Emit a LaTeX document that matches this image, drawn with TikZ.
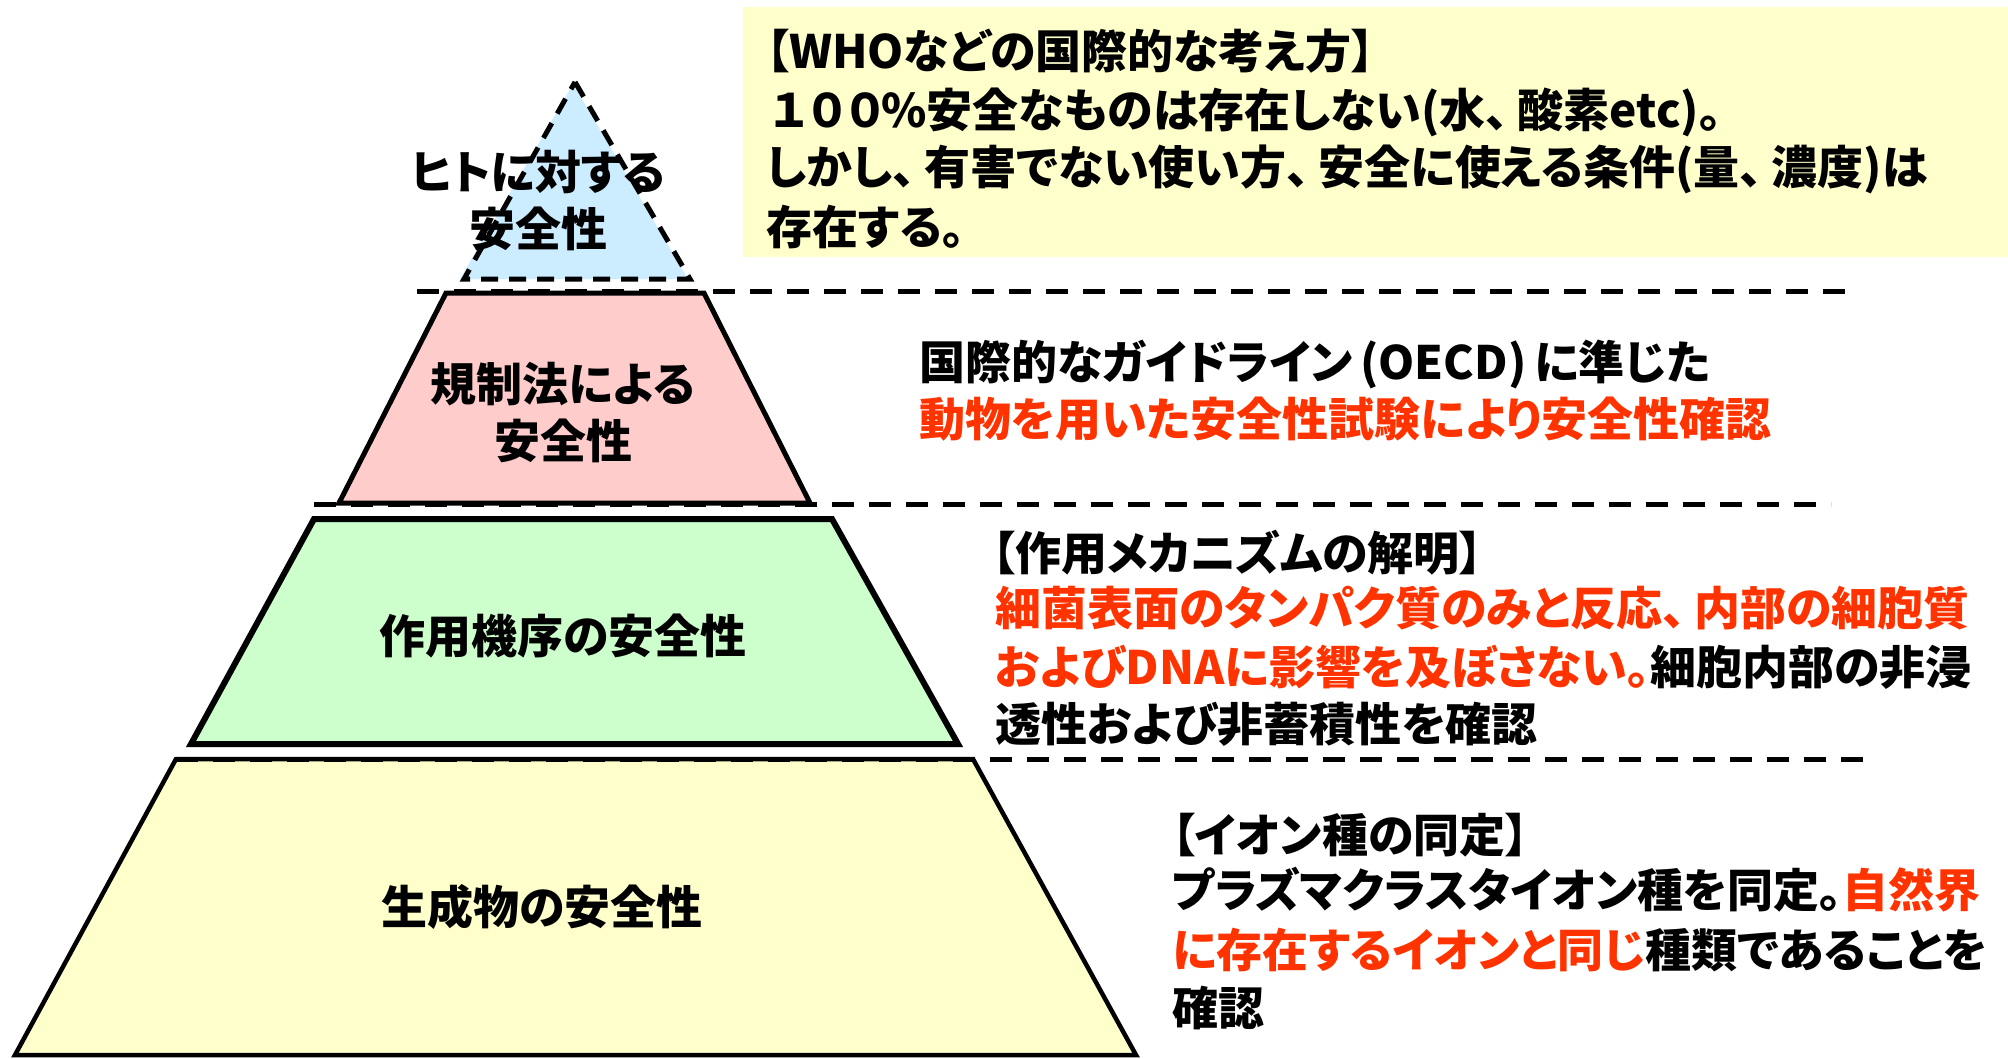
\documentclass[tikz,border=0pt]{standalone}
\usepackage{fontspec}
\setmainfont{Noto Sans CJK JP}[RawFeature=+palt]
\newfontfamily\jpfw{Noto Sans CJK JP}
\newcommand\tten{、\kern0.2em}
\definecolor{tblue}{HTML}{CCECFF}
\definecolor{tpink}{HTML}{FFCCCC}
\definecolor{tgreen}{HTML}{CCFFCC}
\definecolor{tyellow}{HTML}{FFFFCC}
\definecolor{rtx}{HTML}{FF3300}
\tikzset{
  jp/.style={font=\fontsize{46}{57}\selectfont\bfseries, inner sep=0pt},
  lbl/.style={jp, align=center},
  txtline/.style={jp, anchor=base west},
  sepline/.style={line width=5pt, dash pattern=on 22pt off 15pt},
  tier/.style={draw=black, line join=miter},
}
\begin{document}
\begin{tikzpicture}[x=1pt,y=-1pt]
\useasboundingbox (0,0) rectangle (2008,1058);
% top box
\fill[tyellow] (743,7) rectangle (2008,257);
% top triangle
\fill[tblue] (573,84) -- (688,279) -- (460,279) -- cycle;
\draw[line width=5pt, dash pattern=on 17pt off 11pt] (575,82) -- (690,279) -- (464,279) -- cycle;
% tiers
\filldraw[tier, fill=tpink, line width=5pt] (446,293) -- (704,293) -- (810,503) -- (339,503) -- cycle;
\filldraw[tier, fill=tgreen, line width=6pt] (314,519) -- (832,519) -- (958,744) -- (191,744) -- cycle;
\filldraw[tier, fill=tyellow, line width=4.5pt] (176,759) -- (973,759) -- (1136,1055) -- (15,1055) -- cycle;
% dashed separators
\draw[sepline] (417,291) -- (1847,291);
\draw[sepline] (314,504) -- (1831,504);
\draw[sepline] (176,759) -- (1872,759);
% tier labels
\node[lbl] (tri) at (538,201) {ヒトに対する\\安全性};
\node[lbl] (pinklbl) at (563,413) {規制法による\\安全性};
\node[lbl] (greenlbl) at (563,636) {作用機序の安全性};
\node[lbl] (yellbl) at (542,907) {生成物の安全性};
% top box text
\node[txtline] (who1) at (766,68) {【WHOなどの国際的な考え方】};
\node[txtline] (who2) at (766,127) {{\jpfw １\kern-8pt ０\kern-8pt ０\kern-7pt}\%安全なものは存在しない(水\tten 酸素etc)。};
\node[txtline] (who3) at (766,184) {しかし\tten 有害でない使い方\tten 安全に使える条件(量\tten 濃度)は};
\node[txtline] (who4) at (766,244) {存在する。};
% OECD
\node[txtline] (oecd1) at (919,379) {国際的なガイドライン\,(OECD)\,に準じた};
\node[txtline, text=rtx] (oecd2) at (919,436) {動物を用いた安全性試験により安全性確認};
% mechanism
\node[txtline] (mech1) at (992,570) {【作用メカニズムの解明】};
\node[txtline, text=rtx] (mech2) at (995,625) {細菌表面のタンパク質のみと反応\tten 内部の細胞質};
\node[txtline] (mech3) at (995,684) {\textcolor{rtx}{およびDNAに影響を及ぼさない。}細胞内部の非浸};
\node[txtline] (mech4) at (995,741) {透性および非蓄積性を確認};
% ion
\node[txtline] (ion1) at (1172,852) {【イオン種の同定】};
\node[txtline] (ion2) at (1172,907) {プラズマクラスタイオン種を同定。\textcolor{rtx}{自然界}};
\node[txtline] (ion3) at (1172,967) {\textcolor{rtx}{に存在するイオンと同じ}種類であることを};
\node[txtline] (ion4) at (1172,1025) {確認};
\end{tikzpicture}
\end{document}
